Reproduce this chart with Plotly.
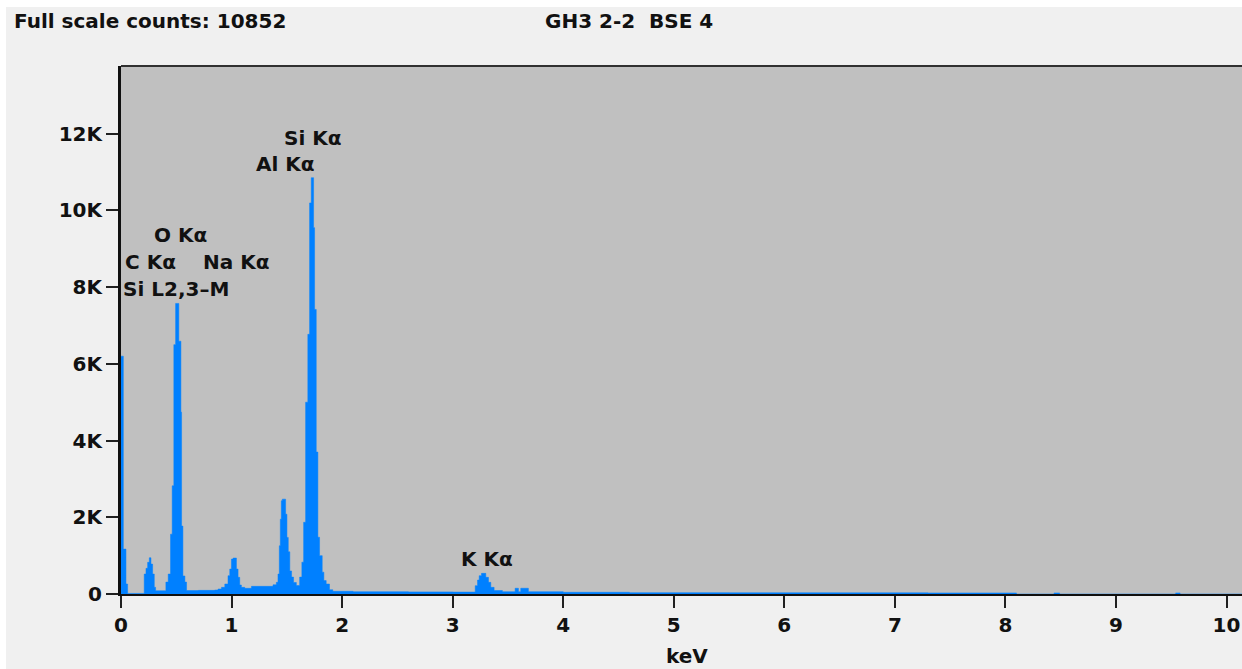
import plotly.graph_objects as go

# EDS spectrum: step edges (keV) and counts held until the next edge
energy_kev = [0.000, 0.021, 0.045, 0.060, 0.210, 0.226, 0.241, 0.256, 0.271, 0.286, 0.301, 0.313,
              0.406, 0.427, 0.448, 0.463, 0.478, 0.494, 0.523, 0.542, 0.548, 0.560, 0.578, 0.593,
              0.700, 0.848, 0.878, 0.909, 0.939, 0.968, 0.984, 0.999, 1.014, 1.044, 1.059, 1.074,
              1.089, 1.119, 1.180, 1.375, 1.405, 1.420, 1.432, 1.441, 1.450, 1.459, 1.489, 1.501,
              1.513, 1.527, 1.543, 1.561, 1.586, 1.616, 1.636, 1.652, 1.670, 1.690, 1.706, 1.721,
              1.742, 1.751, 1.766, 1.781, 1.796, 1.820, 1.835, 1.856, 1.886, 1.916, 2.100, 2.600,
              3.000, 3.204, 3.225, 3.240, 3.261, 3.300, 3.324, 3.345, 3.375, 3.450, 3.565, 3.595,
              3.616, 3.685, 4.000, 4.600, 5.500, 6.500, 7.300, 8.100, 8.440, 8.490, 9.540, 9.580,
              10.140]
counts = [6200, 1170, 260, 15, 520, 670, 825, 945, 780, 520, 175, 85,
          310, 520, 1560, 2820, 6500, 7574, 6590, 4740, 1770, 470, 310, 90,
          95, 104, 130, 174, 260, 477, 650, 910, 937, 650, 434, 234,
          174, 148, 200, 240, 304, 520, 1257, 1950, 2430, 2473, 2080, 1475,
          1100, 600, 440, 300, 220, 440, 830, 1870, 5000, 6770, 10195, 10852,
          9550, 7418, 3700, 1480, 1000, 570, 350, 260, 110, 70, 60, 55,
          50, 217, 364, 477, 538, 434, 304, 174, 90, 60, 150, 60,
          150, 60, 45, 35, 32, 30, 28, 0, 28, 0, 28, 0,
          0]

x_ticks = [0, 1, 2, 3, 4, 5, 6, 7, 8, 9, 10]
y_ticks = [0, 2000, 4000, 6000, 8000, 10000, 12000]
y_tick_labels = ["0", "2K", "4K", "6K", "8K", "10K", "12K"]

peak_labels = ["Si Kα", "Al Kα", "O Kα", "C Kα", "Na Kα", "Si L2,3–M", "K Kα"]
peak_label_x = [1.735, 1.485, 0.535, 0.27, 1.04, 0.50, 3.31]
peak_label_y = [11880, 11200, 9350, 8660, 8660, 7960, 900]

header_left = "Full scale counts: 10852"
header_mid = "GH3 2-2\u00a0\u00a0BSE 4"

FONT = "DejaVu Sans"
FS = 20
BLUE = "#0080ff"

fig = go.Figure()
fig.add_trace(go.Scatter(
    x=energy_kev, y=counts, mode="lines", line=dict(shape="hv", width=0.5, color=BLUE),
    fill="tozeroy", fillcolor=BLUE, hoverinfo="skip"))

for t, x, y in zip(peak_labels, peak_label_x, peak_label_y):
    fig.add_annotation(x=x, y=y, text=t, showarrow=False, xref="x", yref="y",
                       font=dict(family=FONT, size=FS, color="#111", weight="bold"))

fig.add_annotation(x=-0.0972, y=1.0852, xref="paper", yref="paper", text=header_left,
                   xanchor="left", yanchor="middle", showarrow=False,
                   font=dict(family=FONT, size=FS, color="#111", weight="bold"))
fig.add_annotation(x=0.3765, y=1.0852, xref="paper", yref="paper", text=header_mid,
                   xanchor="left", yanchor="middle", showarrow=False,
                   font=dict(family=FONT, size=FS, color="#111", weight="bold"))
fig.add_annotation(x=0.5046, y=-0.1174, xref="paper", yref="paper", text="keV",
                   xanchor="center", yanchor="middle", showarrow=False,
                   font=dict(family=FONT, size=FS, color="#111", weight="bold"))

# frame details
fig.add_shape(type="line", xref="paper", yref="paper", x0=0, x1=1, y0=1, y1=1,
              line=dict(color="#303030", width=2))
fig.add_shape(type="rect", xref="paper", yref="paper", x0=-0.2, x1=1.1, y0=1.1117, y1=1.3,
              fillcolor="white", line=dict(width=0), layer="below")
fig.add_shape(type="rect", xref="paper", yref="paper", x0=-0.2, x1=-0.1026, y0=-0.3, y1=1.3,
              fillcolor="white", line=dict(width=0), layer="below")

fig.update_layout(
    width=1242, height=669,
    margin=dict(l=121, r=0, t=66, b=75),
    paper_bgcolor="#f0f0f0", plot_bgcolor="#c0c0c0",
    showlegend=False, hovermode=False,
)
axis_font = dict(family=FONT, size=FS, color="#111", weight="bold")
fig.update_xaxes(range=[0, 10.14], tickvals=x_ticks, ticks="outside", ticklen=12, tickwidth=2,
                 tickcolor="#202020", showline=True, linecolor="#101010", linewidth=2,
                 showgrid=False, zeroline=False, tickfont=axis_font)
fig.update_yaxes(range=[0, 13764], tickvals=y_ticks, ticktext=y_tick_labels, ticks="outside",
                 ticklen=12, tickwidth=2, tickcolor="#202020", showline=True, linecolor="#101010",
                 linewidth=3, showgrid=False, zeroline=False, tickfont=axis_font)

fig.write_html("out.html")
